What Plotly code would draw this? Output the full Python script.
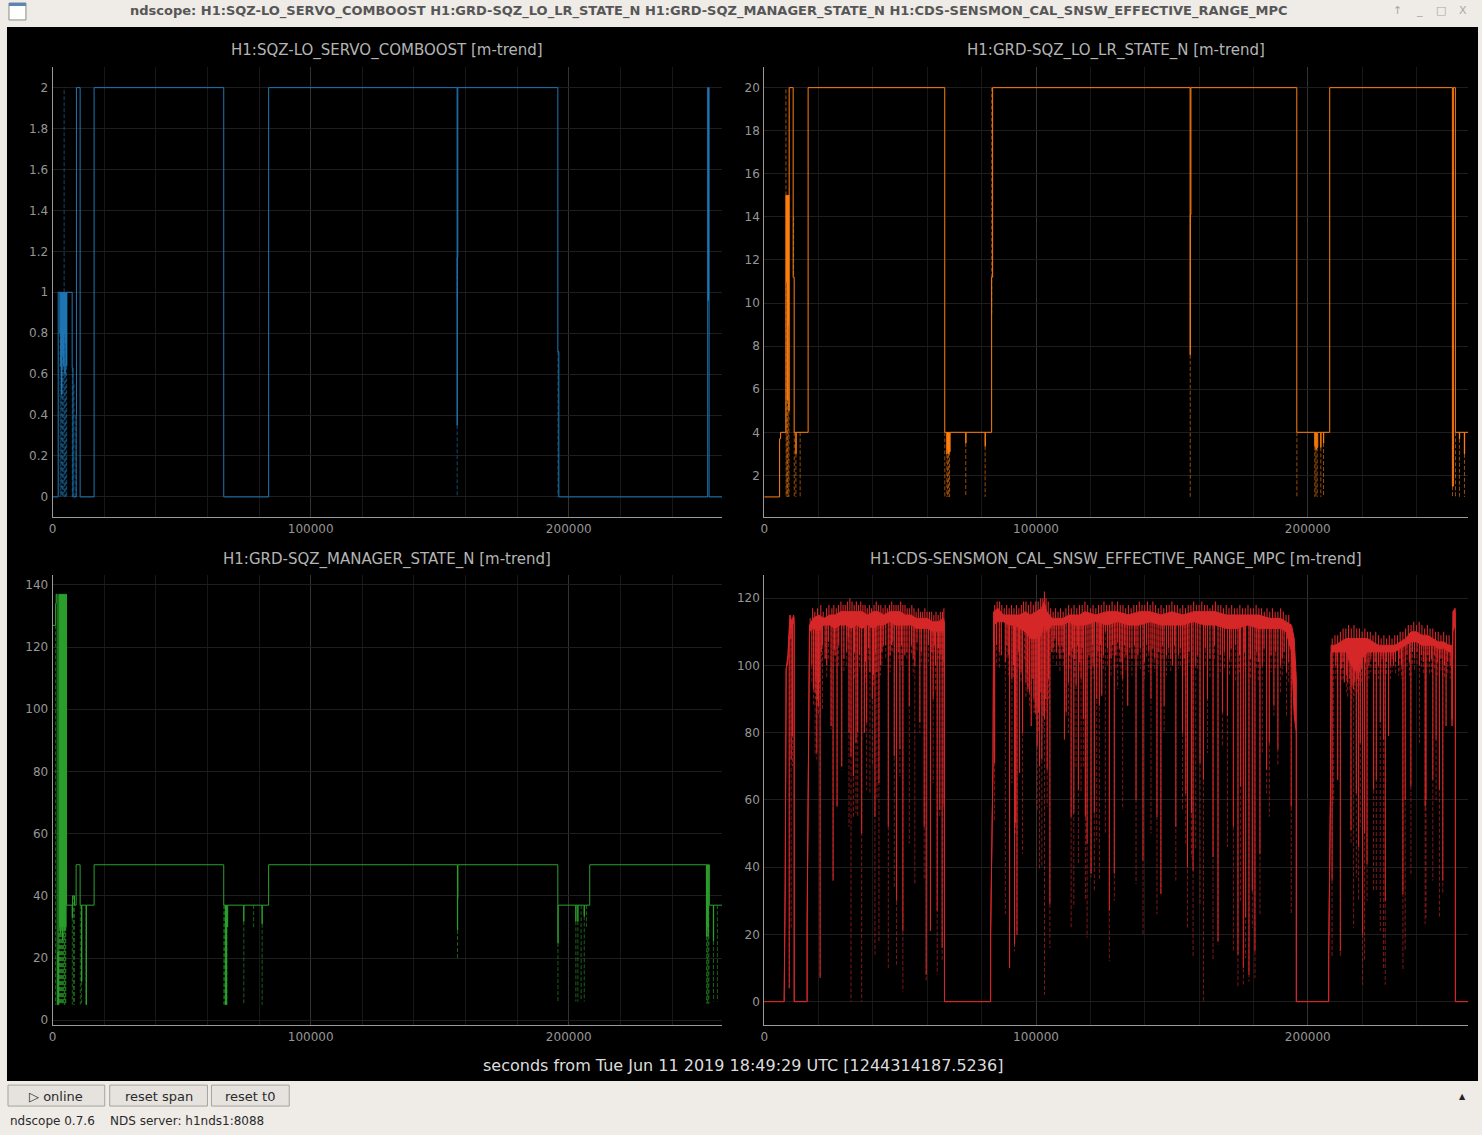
import numpy as np
import plotly.graph_objects as go

# ---------------- data: seconds from t0 ----------------
# H1:SQZ-LO_SERVO_COMBOOST  (mean, step)
combo_t = [0, 2180, 2820, 2980, 3140, 3300, 3460, 3620, 3780, 3940, 4100, 4260, 4420, 4580,
           4740, 4900, 5060, 5220, 5380, 5540, 7590, 7900, 9130, 9250, 10680, 16090, 66320,
           83710, 156740, 156800, 157000, 195760, 196150, 253850, 254000, 254100, 254370, 259390]
combo_v = [0, 1, 0.8, 1, 0.64, 1, 0.5, 1, 0.7, 1, 0.64, 1, 0.8, 1,
           0.6, 1, 0.75, 1, 0.64, 1, 0.63, 0, 0.4, 2, 0, 2, 0,
           2, 0.35, 1.17, 2, 0.71, 0, 2, 0.96, 2, 0, 0]
# min/max excursions (dashed)
combo_ext_t = [2900, 3200, 3500, 3850, 4150, 4480, 4500, 4800, 5100, 5450, 7650, 8300, 9150,
               156760, 156820, 195800, 254050]
combo_ext_a = [0.8, 0.64, 0.5, 0.7, 0.64, 1, 0.8, 0.6, 0.75, 0.64, 0.63, 0.55, 0.4,
               0.35, 1.17, 0.71, 1.5]
combo_ext_b = [0, 0, 0, 0, 0, 2, 0, 0, 0, 0, 0, 0, 0,
               0, 0.96, 0, 0.96]

# H1:GRD-SQZ_LO_LR_STATE_N
lolr_t = [0, 5650, 6020, 7960, 8150, 8300, 8450, 8600, 8750, 8900, 9050, 9170, 10640, 11010,
          11630, 11750, 16150, 66420, 67160, 67300, 67450, 67600, 67800, 67950, 68150, 68400,
          74130, 74250, 81250, 81370, 83670, 84040, 156700, 156800, 157000, 195960, 202570,
          202750, 202950, 203150, 203400, 203670, 204770, 204880, 205760, 205870, 208070,
          253210, 253580, 254310, 255780, 255880, 257610, 257720, 259080]
lolr_v = [1, 3.7, 4, 15, 11, 15, 5.5, 15, 9, 15, 5, 20, 11.2, 4,
          3, 4, 20, 4, 3, 4, 3.2, 4, 3, 4, 3.1, 4,
          3.5, 4, 3.35, 4, 11.2, 20, 7.6, 14.1, 20, 4, 3.35,
          4, 3.2, 4, 3.3, 4, 3.3, 4, 3.5, 4, 20,
          1.5, 20, 4, 3.7, 4, 3.0, 4, 4]
lolr_ext_t = [7990, 8050, 8350, 8500, 8800, 9100, 10800, 11050, 11650, 13210, 66450, 67200,
              67500, 67850, 68200, 74150, 81280, 83700, 156750, 196000, 202600, 203000,
              203450, 204800, 205800, 253250, 254350, 255800, 257650]
lolr_ext_a = [15, 11, 15, 5.5, 9, 5, 14, 4, 3, 4, 4, 3,
              3.2, 3, 3.1, 3.5, 3.35, 20, 7.6, 4, 3.35, 3.2,
              3.3, 3.3, 3.5, 1.5, 4, 3.7, 3]
lolr_ext_b = [20, 1, 1, 1, 1, 1, 11.2, 1, 1, 1, 1, 1,
              1, 1, 1, 1, 1, 9.5, 1, 1, 1, 1,
              1, 1, 1, 1, 1, 1, 1]

# H1:GRD-SQZ_MANAGER_STATE_N
mgr_t = [0, 1160, 1390, 1780, 2050, 2200, 2430, 2650, 2850, 3050, 3250, 3450, 3650, 3850,
         4050, 4250, 4450, 4650, 4850, 5050, 5250, 5410, 7590, 7750, 8500, 9130, 10680, 11200,
         11350, 12990, 13150, 16090, 66320, 66960, 67100, 67300, 67450, 67650, 67850, 74040,
         74150, 81140, 81250, 83710, 156870, 156950, 157050, 195760, 195900, 202700, 202800,
         203480, 203580, 205950, 206050, 208120, 253330, 253480, 253630, 253780, 253930,
         254080, 254480, 256030, 256130, 259390]
mgr_v = [127, 134, 137, 5, 22, 5, 137, 30, 137, 28, 137, 30, 137, 26,
         137, 30, 137, 29, 137, 30, 137, 37, 33, 40, 37, 50, 37, 12.5,
         37, 5, 37, 50, 37, 5, 37, 5, 37, 30, 37, 31.8,
         37, 31, 37, 50, 29, 39.3, 50, 24.8, 37, 31.8, 37,
         31.8, 37, 33.4, 37, 50, 27, 50, 30, 50, 27,
         50, 37, 25.5, 37, 37]
mgr_ext_t = [1160, 2500, 2750, 2950, 3150, 3320, 3350, 3550, 3750, 3950, 4150, 4350, 4550,
             4750, 4950, 5150, 7650, 8150, 8450, 10750, 11250, 13000, 66350, 66700, 67200,
             67550, 74100, 77900, 81200, 156900, 195800, 202750, 203530, 204790, 206000,
             206840, 253400, 253700, 254000, 254300, 256080, 257580]
mgr_ext_a = [127, 30, 30, 28, 28, 137, 30, 30, 26, 26, 30, 30, 29,
             29, 30, 30, 33, 40, 40, 37, 12.5, 37, 37, 37, 37,
             37, 31.8, 37, 31, 29, 24.8, 31.8, 31.8, 37, 33.4,
             37, 27, 30, 27, 37, 25.5, 37]
mgr_ext_b = [5, 5, 5, 5, 5, 113, 5, 5, 5, 5, 5, 5, 5,
             5, 5, 5, 5, 5, 5, 5, 5, 5, 5, 5, 5,
             5, 5, 29.6, 5, 20, 6, 6, 6, 6, 6,
             30, 5.3, 5.3, 5.3, 5.3, 6, 6]

# H1:CDS-SENSMON_CAL_SNSW_EFFECTIVE_RANGE_MPC  (band of the mean: low / high edge)
range_t = [0, 7330, 7710, 8070, 8700, 9430, 9800, 10160, 10790, 11010, 11020,
           15770, 15780, 16150, 16660, 18000, 20000, 22000, 24000, 26000, 28000, 30000,
           32000, 34000, 36000, 38000, 40000, 42000, 44000, 46000, 48000, 50000, 52000,
           54000, 56000, 58000, 60000, 62000, 64000, 66000, 66300, 66320,
           83290, 83300, 83670, 84180, 84400, 86000, 88000, 90000, 92000, 94000, 96000,
           98000, 100000, 102000, 103000, 104000, 106000, 108000, 110000, 112000, 114000,
           116000, 118000, 122000, 126000, 130000, 134000, 138000, 142000, 146000, 150000,
           154000, 158000, 162000, 166000, 170000, 174000, 178000, 182000, 186000, 190000,
           192000, 194000, 195000, 195780, 195790,
           207690, 207700, 208330, 208580, 210000, 212000, 214000, 216000, 218000, 220000,
           222000, 224000, 226000, 228000, 230000, 232000, 234000, 236000, 238000, 240000,
           242000, 244000, 246000, 248000, 250000, 252000, 252990, 253100, 253400, 254200,
           254310, 254320, 259080]
range_lo = [0, 0, 35, 99, 101, 112, 108, 111, 113, 112, 0,
            0, 23, 64, 110, 111, 110, 112, 112, 111, 112, 112,
            111, 112, 111, 112, 111, 112, 112, 113, 112, 112, 112,
            112, 111, 111, 111, 110, 110, 110, 110, 0,
            0, 20, 42, 71, 112, 113, 113, 112, 112, 111, 110,
            108, 108, 109, 112, 110, 112, 112, 112, 113, 112,
            112, 112, 113, 112, 113, 112, 112, 113, 112, 112,
            112, 113, 112, 112, 111, 111, 112, 111, 111, 111,
            110, 104, 85, 80, 0,
            0, 14, 60, 104, 104, 104, 104, 100, 98, 102,
            104, 104, 104, 104, 104, 104, 105, 106, 107, 107,
            106, 106, 106, 105, 105, 104, 104, 82, 110, 112,
            112, 0, 0]
range_hi = [0, 0, 35, 99, 103, 115, 114, 113, 115, 114, 0,
            0, 23, 64, 112, 114, 115, 114, 115, 115, 116, 116,
            116, 116, 116, 115, 116, 116, 115, 116, 116, 116, 115,
            115, 114, 114, 114, 113, 113, 114, 113, 0,
            0, 20, 42, 71, 116, 117, 115, 115, 115, 115, 116,
            115, 116, 117, 119, 116, 114, 114, 114, 115, 115,
            115, 116, 115, 116, 116, 115, 116, 116, 115, 116,
            115, 116, 116, 116, 115, 115, 115, 115, 114, 114,
            113, 112, 108, 96, 0,
            0, 14, 60, 106, 106, 107, 108, 108, 108, 108,
            108, 107, 106, 106, 106, 106, 107, 108, 110, 110,
            109, 109, 108, 107, 107, 106, 106, 84, 116, 117,
            116, 0, 0]
# short upward excursions of the mean above the band: time, peak value
range_peak_t = [16900, 17800, 18600, 19600, 20800, 21700, 22900, 23800, 24900, 25600, 26500,
                27300, 28200, 29000, 29800, 30600, 31500, 32300, 33100, 33900, 34700, 35500,
                36300, 37100, 37900, 38700, 39500, 40400, 41200, 42000, 42900, 43700, 44500,
                45300, 46100, 46900, 47700, 48500, 49300, 50200, 51000, 51800, 52600, 53400,
                54300, 55100, 55900, 56700, 57500, 58300, 59100, 59900, 60800, 61600, 62400,
                63200, 64000, 64800, 65600, 66100,
                84800, 85700, 86600, 87400, 88300, 89200, 90100, 91000, 91900, 92800, 93700,
                94600, 95400, 96300, 97200, 98100, 99000, 99900, 100800, 101700, 102500, 103100,
                103700, 104500, 105400, 106300, 107200, 108100, 109000, 110000, 111000, 112000,
                113000, 114000, 115000, 116000, 117000, 118000, 119000, 120000, 121000, 122000,
                123000, 124000, 125000, 126000, 127000, 128000, 129000, 130000, 131000, 132000,
                133000, 134000, 135000, 136000, 137000, 138000, 139000, 140000, 141000, 142000,
                143000, 144000, 145000, 146000, 147000, 148000, 149000, 150000, 151000, 152000,
                153000, 154000, 155000, 156000, 157000, 158000, 159000, 160000, 161000, 162000,
                163000, 164000, 165000, 166000, 167000, 168000, 169000, 170000, 171000, 172000,
                173000, 174000, 175000, 176000, 177000, 178000, 179000, 180000, 181000, 182000,
                183000, 184000, 185000, 186000, 187000, 188000, 189000, 190000, 191000, 192000,
                193000,
                209000, 210000, 211000, 212000, 213000, 214000, 215000, 216000, 217000, 218000,
                219000, 220000, 221000, 222000, 223000, 224000, 225000, 226000, 227000, 228000,
                229000, 230000, 231000, 232000, 233000, 234000, 235000, 236000, 237000, 238000,
                239000, 240000, 241000, 242000, 243000, 244000, 245000, 246000, 247000, 248000,
                249000, 250000, 251000, 252000]
range_peak_v = [114, 117, 116, 117, 118, 116, 117, 118, 117, 118, 117,
                118, 119, 118, 118, 119, 120, 119, 118, 119, 118, 119,
                118, 118, 117, 118, 117, 118, 119, 118, 118, 117, 118,
                117, 118, 119, 118, 118, 118, 119, 118, 118, 117, 117,
                118, 117, 116, 117, 116, 116, 117, 116, 116, 116, 115,
                116, 115, 116, 116, 117,
                118, 119, 119, 118, 117, 118, 117, 118, 117, 118, 117,
                118, 119, 119, 118, 119, 118, 119, 119, 120, 120, 122,
                120, 119, 117, 116, 117, 116, 117, 116, 117, 118,
                117, 118, 117, 118, 118, 119, 118, 117, 118, 117,
                118, 118, 119, 118, 118, 119, 118, 119, 118, 118,
                117, 118, 117, 118, 118, 119, 118, 118, 119, 118,
                119, 118, 117, 118, 117, 118, 118, 119, 118, 118,
                117, 118, 117, 118, 118, 119, 118, 118, 119, 118,
                118, 117, 118, 119, 118, 118, 117, 118, 117, 118,
                117, 117, 118, 117, 117, 118, 117, 117, 118, 117,
                117, 116, 117, 116, 117, 116, 116, 117, 116, 115,
                115,
                108, 109, 109, 110, 111, 111, 112, 111, 112, 111,
                111, 110, 111, 110, 110, 109, 110, 109, 108, 109,
                108, 109, 108, 109, 109, 110, 110, 111, 112, 112,
                113, 112, 113, 112, 111, 112, 111, 111, 110, 110,
                109, 110, 109, 109]
# deep drops of the range: time, lowest mean, lowest minimum
range_dip_t = [9200, 9900, 10400,
               18120, 18730, 19340, 19950, 20560, 21420, 22400, 24600, 25330, 26060, 26790,
               28510, 30350, 31190, 31930, 32810, 33760, 34380, 35850, 36840, 37690, 38900,
               39780, 40740, 41470, 42200, 43820, 45650, 46860, 47850, 48700, 49910, 51010,
               51740, 53360, 55410, 57250, 58860, 59600, 61170, 62160, 63010, 63630, 64590,
               65470, 66200,
               84770, 87230, 88700, 90270, 91130, 92100, 92500, 93000, 93940, 95050, 95780,
               97020, 98240, 98850, 99710, 100440, 101290, 102150, 103120, 104110, 105100,
               105830, 110460, 111090, 111930, 112920, 113910, 114750, 115600, 116590, 117430,
               118160, 118790, 120260, 121470, 122350, 123310, 124190, 125510, 126980, 128810,
               130060, 131890, 133730, 136800, 139370, 142300, 144500, 145950, 147150, 150230,
               151450, 153900, 155110, 155730, 157200, 157790, 158780, 160360, 161610, 163080,
               165140, 166970, 168590, 170420, 172620, 173470, 174310, 175300, 176290, 177130,
               178350, 179600, 180550, 182390, 183270, 184850, 185840, 187530, 189000, 189990,
               192180, 193910,
               208950, 209530, 211000, 211990, 213450, 215040, 215900, 216870, 217860, 218710,
               219330, 220180, 220910, 221800, 224230, 225220, 226680, 227900, 228510, 229720,
               231560, 233400, 235010, 235850, 237940, 241100, 243190, 243500, 246010, 247220,
               248440, 249680, 250890]
range_dip_mean = [4, 72, 79,
                  93, 92, 74, 88, 7, 106, 102, 82, 36, 103, 58,
                  70, 104, 80, 73, 67, 77, 80, 50, 80, 83, 98,
                  90, 55, 98, 65, 106, 52, 106, 73, 30, 75, 21,
                  103, 88, 100, 83, 52, 8, 21, 90, 100, 27, 57,
                  16, 58,
                  71, 103, 101, 10, 96, 17, 53, 20, 68, 80, 112,
                  93, 82, 96, 86, 76, 70, 72, 84, 69, 29,
                  104, 78, 86, 95, 55, 56, 94, 63, 96, 84,
                  55, 47, 38, 56, 90, 88, 91, 110, 27, 38,
                  107, 96, 88, 60, 42, 90, 55, 32, 88, 100,
                  52, 80, 62, 40, 56, 39, 100, 71, 66, 90,
                  43, 18, 86, 85, 52, 106, 14, 64, 10, 25,
                  8, 33, 15, 44, 100, 69, 77, 88, 75, 100,
                  98, 58,
                  36, 104, 66, 15, 95, 104, 51, 93, 62, 46,
                  77, 20, 50, 41, 63, 66, 83, 78, 30, 79,
                  100, 100, 32, 60, 64, 100, 58, 60, 66, 78,
                  63, 36, 82]
range_dip_min = [4, 22, 70,
                 88, 73, 72, 85, 7, 87, 102, 81, 36, 100, 58,
                 69, 100, 52, 0, 55, 56, 55, 0, 80, 63, 62,
                 70, 14, 60, 18, 105, 10, 104, 34, 11, 67, 3,
                 103, 47, 35, 80, 36, 6, 21, 65, 92, 8, 55,
                 12, 33,
                 54, 103, 26, 10, 65, 15, 50, 20, 68, 44, 101,
                 93, 82, 96, 85, 57, 39, 40, 2, 58, 16,
                 104, 78, 85, 80, 22, 28, 69, 41, 62, 70,
                 30, 19, 37, 33, 48, 36, 91, 50, 12, 30,
                 93, 57, 88, 35, 20, 50, 26, 32, 80, 100,
                 36, 57, 47, 22, 43, 13, 45, 29, 0, 74,
                 12, 17, 76, 46, 15, 95, 4, 30, 5, 13,
                 6, 22, 7, 26, 74, 62, 55, 85, 70, 92,
                 85, 26,
                 13, 59, 66, 13, 95, 100, 47, 22, 37, 30,
                 52, 5, 12, 30, 33, 33, 21, 10, 5, 79,
                 100, 97, 9, 15, 38, 77, 23, 25, 36, 60,
                 25, 32, 82]
# shallow drops just below the band
range_small_t = [17500, 19000, 19700, 20200, 21000, 23000, 23600, 25800, 27400, 29300, 30900,
                 33200, 35100, 37200, 38400, 40200, 41000, 42800, 43300, 44700, 46300, 47300,
                 49300, 50500, 52500, 54200, 54800, 56200, 57800, 60400, 61700, 62600, 64100,
                 65000, 65800,
                 85500, 86500, 89300, 89800, 91700, 93500, 94500, 96300, 96800, 97600, 99200,
                 100000, 100900, 101800, 102600, 103600, 104600, 106300, 106900, 107500, 108200,
                 108800, 109500, 110000, 112400, 113400, 114200, 115200, 116100, 117000, 119500,
                 120800, 121000, 122800, 123800, 124800, 126300, 127600, 128200, 129400, 130700,
                 131300, 132500, 133100, 134500, 135300, 136200, 137500, 138400, 139900, 140700,
                 141500, 143000, 143700, 145200, 146600, 148000, 148800, 149600, 151000, 152500,
                 153200, 154500, 156300, 159500, 162300, 164000, 165700, 167800, 169300, 171200,
                 171800, 174900, 176800, 178900, 181200, 181800, 183900, 186500, 188200, 190600,
                 191300, 193000,
                 210300, 210800, 212500, 213000, 214200, 214700, 215500, 216300, 217300, 218200,
                 219000, 219800, 221200, 222500, 223200, 224800, 226000, 227300, 229000, 230400,
                 231000, 232300, 233900, 234500, 236500, 237400, 238500, 239300, 240200, 241800,
                 242500, 244200, 244800, 245500, 246700, 247800, 249000, 250300, 251500, 252400]
range_small_mean = [100, 96, 90, 95, 104, 100, 107, 105, 106, 102, 108,
                    104, 103, 101, 105, 97, 104, 100, 104, 106, 103, 107,
                    104, 106, 104, 106, 102, 107, 104, 106, 104, 106, 105,
                    103, 101,
                    106, 104, 106, 103, 100, 104, 98, 95, 98, 92, 90,
                    88, 86, 92, 85, 90, 96, 105, 108, 104, 106,
                    102, 106, 104, 103, 105, 102, 106, 101, 105, 103,
                    106, 100, 104, 106, 103, 105, 102, 106, 103, 105,
                    101, 106, 103, 105, 102, 106, 103, 105, 101, 106,
                    104, 105, 102, 104, 106, 103, 105, 102, 106, 103,
                    105, 102, 104, 103, 105, 102, 106, 103, 104, 102,
                    105, 103, 104, 102, 104, 101, 105, 103, 104, 102,
                    104, 101,
                    100, 102, 99, 101, 97, 95, 96, 94, 95, 96,
                    98, 99, 101, 100, 102, 101, 100, 102, 101, 100,
                    102, 101, 102, 100, 103, 101, 104, 102, 104, 103,
                    101, 103, 101, 102, 103, 101, 102, 100, 101, 100]
range_small_min = [95, 90, 88, 92, 100, 96, 102, 104, 100, 98, 105,
                   96, 99, 95, 101, 94, 98, 97, 100, 102, 98, 104,
                   101, 100, 102, 103, 97, 104, 100, 101, 99, 104, 102,
                   100, 97,
                   100, 99, 102, 97, 96, 99, 95, 90, 92, 88, 86,
                   84, 80, 88, 80, 86, 90, 101, 104, 100, 103,
                   98, 102, 100, 99, 102, 96, 104, 98, 101, 99,
                   102, 96, 100, 101, 99, 100, 97, 103, 99, 101,
                   97, 102, 98, 101, 97, 102, 100, 99, 96, 102,
                   98, 100, 98, 100, 102, 97, 101, 98, 103, 99,
                   100, 97, 100, 99, 100, 96, 102, 98, 99, 97,
                   100, 98, 99, 96, 99, 95, 101, 98, 99, 97,
                   100, 95,
                   96, 98, 95, 96, 92, 90, 92, 90, 91, 92,
                   94, 95, 97, 96, 98, 97, 96, 98, 97, 96,
                   98, 97, 98, 96, 99, 97, 100, 98, 100, 99,
                   97, 99, 97, 98, 99, 97, 98, 96, 97, 96]

TITLES = ["H1:SQZ-LO_SERVO_COMBOOST [m-trend]", "H1:GRD-SQZ_LO_LR_STATE_N [m-trend]",
          "H1:GRD-SQZ_MANAGER_STATE_N [m-trend]", "H1:CDS-SENSMON_CAL_SNSW_EFFECTIVE_RANGE_MPC [m-trend]"]
WINDOW_TITLE = ("ndscope: H1:SQZ-LO_SERVO_COMBOOST H1:GRD-SQZ_LO_LR_STATE_N "
                "H1:GRD-SQZ_MANAGER_STATE_N H1:CDS-SENSMON_CAL_SNSW_EFFECTIVE_RANGE_MPC")
XLABEL = "seconds from Tue Jun 11 2019 18:49:29 UTC [1244314187.5236]"

# ---------------- layout helpers ----------------
W, H = 1482, 1135
def px(x): return x / W
def py(y): return 1 - y / H

BLUE, ORANGE, GREEN, RED = "#1f77b4", "#ff7f0e", "#2ca02c", "#d62728"
DIM = {BLUE: "rgba(31,119,180,0.6)", ORANGE: "rgba(255,127,14,0.6)",
       GREEN: "rgba(44,160,44,0.6)", RED: "rgba(214,39,40,0.6)"}
DASH = "4px,2px"
THIN = "DejaVu Sans"


def segments(ts, tops, bots):
    xs, ys = [], []
    for t, a, b in zip(ts, tops, bots):
        xs += [t, t, None]
        ys += [a, b, None]
    return xs, ys


fig = go.Figure()

step_channels = [
    (combo_t, combo_v, combo_ext_t, combo_ext_a, combo_ext_b, BLUE, "x", "y"),
    (lolr_t, lolr_v, lolr_ext_t, lolr_ext_a, lolr_ext_b, ORANGE, "x2", "y2"),
    (mgr_t, mgr_v, mgr_ext_t, mgr_ext_a, mgr_ext_b, GREEN, "x3", "y3"),
]
for t, v, et, ea, eb, col, xa, ya in step_channels:
    sx, sy = segments(et, ea, eb)
    fig.add_trace(go.Scatter(x=sx, y=sy, mode="lines", xaxis=xa, yaxis=ya,
                             line=dict(color=DIM[col], width=1, dash=DASH), hoverinfo="skip"))
    fig.add_trace(go.Scatter(x=t, y=v, mode="lines", xaxis=xa, yaxis=ya,
                             line=dict(color=col, width=1, shape="hv"), hoverinfo="skip"))

# effective range: dashed minima, band of the mean, solid drops and peaks
drop_t = range_dip_t + range_small_t
drop_mean = range_dip_mean + range_small_mean
drop_min = range_dip_min + range_small_min
band_lo_at_drop = np.interp(drop_t, range_t, range_lo)
band_hi_at_peak = np.interp(range_peak_t, range_t, range_hi)
sx, sy = segments(drop_t, band_lo_at_drop, drop_min)
fig.add_trace(go.Scatter(x=sx, y=sy, mode="lines", xaxis="x4", yaxis="y4",
                         line=dict(color=DIM[RED], width=1, dash=DASH), hoverinfo="skip"))
fig.add_trace(go.Scatter(x=range_t, y=range_lo, mode="lines", xaxis="x4", yaxis="y4",
                         line=dict(color=RED, width=1), hoverinfo="skip"))
fig.add_trace(go.Scatter(x=range_t, y=range_hi, mode="lines", xaxis="x4", yaxis="y4",
                         fill="tonexty", fillcolor=RED,
                         line=dict(color=RED, width=1), hoverinfo="skip"))
sx, sy = segments(drop_t, band_lo_at_drop, drop_mean)
px_, py_ = segments(range_peak_t, band_hi_at_peak, range_peak_v)
fig.add_trace(go.Scatter(x=sx + px_, y=sy + py_, mode="lines", xaxis="x4", yaxis="y4",
                         line=dict(color=RED, width=1.1), hoverinfo="skip"))

# ---------------- axes ----------------
left_dom = [px(48.7), px(720)]
right_dom = [px(762.3), px(1468.3)]
top_dom = [py(518.3), py(67.3)]
bot_dom = [py(1027.3), py(576)]

tick_font = dict(family="DejaVu Sans", size=12, color="#969696")


def xax(dom, anchor, xmax):
    return dict(domain=dom, anchor=anchor, range=[0, xmax], showline=True, linecolor="#9a9a9a",
                linewidth=1, showgrid=True, gridcolor="#333333", gridwidth=1, zeroline=False,
                tick0=0, dtick=100000, tickformat="d", ticks="", tickfont=tick_font,
                minor=dict(dtick=20000, tick0=0, showgrid=True, gridcolor="#171717", gridwidth=1),
                fixedrange=True)


def yax(dom, anchor, yr, dt):
    return dict(domain=dom, anchor=anchor, range=yr, showline=True, linecolor="#9a9a9a",
                linewidth=1, showgrid=True, gridcolor="#1e1e1e", gridwidth=1, zeroline=False,
                tick0=0, dtick=dt, ticks="", tickfont=tick_font, ticklabelstandoff=1,
                fixedrange=True)


fig.update_layout(
    width=W, height=H, margin=dict(l=0, r=0, t=0, b=0),
    paper_bgcolor="#efebe7", plot_bgcolor="rgba(0,0,0,0)", showlegend=False,
    xaxis=xax(left_dom, "y", 259390), yaxis=yax(top_dom, "x", [-0.1, 2.1], 0.2),
    xaxis2=xax(right_dom, "y2", 259080), yaxis2=yax(top_dom, "x2", [0.05, 20.95], 2),
    xaxis3=xax(left_dom, "y3", 259390), yaxis3=yax(bot_dom, "x3", [-1.7, 143.2], 20),
    xaxis4=xax(right_dom, "y4", 259080), yaxis4=yax(bot_dom, "x4", [-7.1, 126.9], 20),
)

# ---------------- window chrome ----------------
shapes = [
    dict(type="rect", xref="paper", yref="paper", x0=px(3), x1=px(1478), y0=py(1083), y1=py(27),
         fillcolor="#000000", line=dict(width=0), layer="below"),
    dict(type="rect", xref="paper", yref="paper", x0=px(5), x1=px(22), y0=py(20), y1=py(3),
         fillcolor="#ffffff", line=dict(color="#8a8a8a", width=1)),
    dict(type="rect", xref="paper", yref="paper", x0=px(5), x1=px(22), y0=py(6), y1=py(3),
         fillcolor="#5b84b8", line=dict(width=0)),
]
buttons = [("▷ online", 4, 101), ("reset span", 106, 204), ("reset t0", 208, 286)]
annotations = []
for label, x0, x1 in buttons:
    shapes.append(dict(type="rect", xref="paper", yref="paper", x0=px(x0), x1=px(x1),
                       y0=py(1108), y1=py(1087), fillcolor="#e6e3df",
                       line=dict(color="#a5a29e", width=1)))
    annotations.append(dict(text=label, x=px((x0 + x1) / 2), y=py(1098), xref="paper", yref="paper",
                            showarrow=False, xanchor="center", yanchor="middle",
                            font=dict(family="DejaVu Sans", size=13, color="#2a2a2a")))

annotations += [
    dict(text=WINDOW_TITLE, x=px(707), y=py(11), xref="paper", yref="paper", showarrow=False,
         xanchor="center", yanchor="middle",
         font=dict(family="DejaVu Sans", size=13, color="#565656", weight="bold")),
    dict(text="ndscope 0.7.6    NDS server: h1nds1:8088", x=px(4), y=py(1123), xref="paper",
         yref="paper", showarrow=False, xanchor="left", yanchor="middle",
         font=dict(family="DejaVu Sans", size=12, color="#2a2a2a")),
    dict(text="▲", x=px(1462), y=py(1098), xref="paper", yref="paper", showarrow=False,
         xanchor="center", yanchor="middle", font=dict(family="DejaVu Sans", size=8, color="#222")),
    dict(text=XLABEL, x=px(740.5), y=py(1067), xref="paper", yref="paper", showarrow=False,
         xanchor="center", yanchor="middle", font=dict(family=THIN, size=16, color="#dcdcdc")),
]
for sym, xx in [("↑", 1397), ("_", 1419), ("□", 1441), ("X", 1463)]:
    annotations.append(dict(text=sym, x=px(xx), y=py(11), xref="paper", yref="paper",
                            showarrow=False, xanchor="center", yanchor="middle",
                            font=dict(family="DejaVu Sans", size=11, color="#a8a8a8")))

title_pos = [(left_dom, 51), (right_dom, 51), (left_dom, 560), (right_dom, 560)]
for text, (dom, yy) in zip(TITLES, title_pos):
    annotations.append(dict(text=text, x=(dom[0] + dom[1]) / 2, y=py(yy), xref="paper",
                            yref="paper", showarrow=False, xanchor="center", yanchor="middle",
                            font=dict(family=THIN, size=15, color="#b4b4b4")))

fig.update_layout(shapes=shapes, annotations=annotations)
fig.write_html("out.html", config={"displayModeBar": False},
               post_script="document.body.style.margin='0px';"
                           "document.documentElement.style.overflow='hidden';")
